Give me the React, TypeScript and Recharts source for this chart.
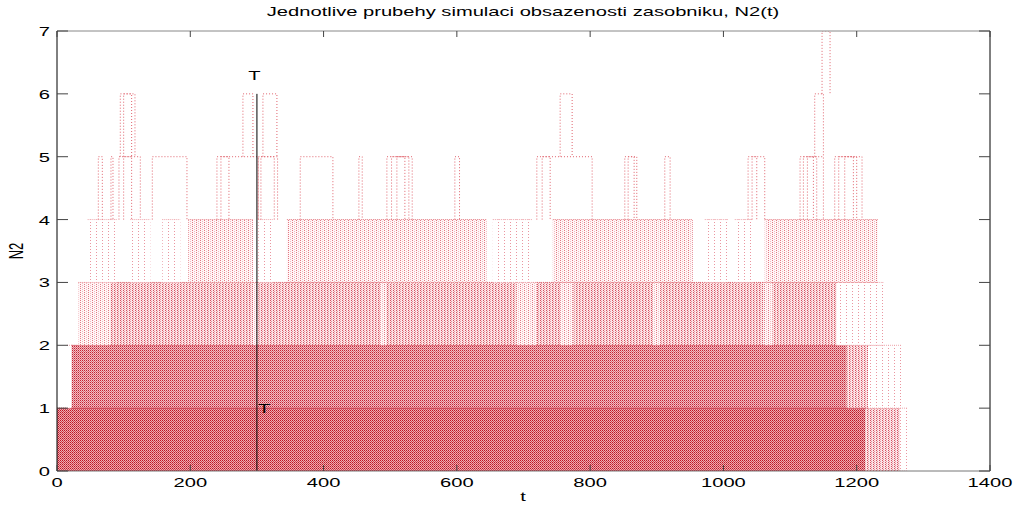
import React from 'react';
import { ComposedChart, Area, Line, XAxis, YAxis, ReferenceLine, ReferenceDot } from 'recharts';

const xTicks = [0, 200, 400, 600, 800, 1000, 1200, 1400];
const yTicks = [0, 1, 2, 3, 4, 5, 6, 7];
const markTime = 300;
const markTop = 6;

// stretches of time where the runs sit in a band: [from, to, crowding 1 (few runs) .. 5 (packed)]
const level1Spans = [[0, 1213, 5], [1213, 1265, 3], [1265, 1277, 1]];
const level2Spans = [[15, 22, 1], [22, 1185, 4], [1185, 1217, 3], [1217, 1268, 1]];
const level3Spans = [
  [32, 80, 2], [80, 294, 3], [294, 302, 2], [302, 485, 3], [485, 495, 2], [495, 690, 3],
  [690, 720, 2], [720, 755, 3], [755, 775, 2], [775, 895, 3], [895, 905, 2], [905, 1060, 3],
  [1060, 1073, 2], [1073, 1170, 3], [1170, 1240, 1],
];
const level4Spans = [
  [46, 90, 1], [110, 140, 1], [158, 185, 1], [197, 294, 2], [302, 324, 1], [345, 645, 2],
  [654, 714, 1], [744, 954, 2], [972, 1007, 1], [1017, 1044, 1], [1062, 1232, 2],
];

// single excursions above 4: [up at, down at]
const level5Runs = [
  [62, 68], [81, 84], [93, 125], [100, 112], [143, 195], [240, 302], [246, 258], [302, 331],
  [306, 326], [365, 414], [453, 458], [495, 533], [502, 528], [510, 522], [597, 604], [720, 803],
  [728, 740], [852, 870], [857, 866], [912, 920], [1037, 1062], [1043, 1050], [1115, 1150],
  [1120, 1140], [1126, 1135], [1167, 1208], [1173, 1200], [1182, 1195],
];
const level6Runs = [[95, 117], [100, 112], [279, 294], [309, 330], [755, 773], [1137, 1150]];
const level7Runs = [[1148, 1160]];

const TOP = 31;
const RIGHT = 990;
const FONT = '"Liberation Sans", Arial, sans-serif';
const STRETCH = 1.55;

const spanSeries = (spans: number[][], level: number) =>
  spans.map(([a, b, d]) => ({
    d,
    data: [
      { t: a, r: [level - 1, level] },
      { t: b, r: [level - 1, level] },
    ],
  }));

const runSeries = (runs: number[][], level: number) =>
  runs.map(([a, b]) => [
    { t: a, v: level - 1 },
    { t: a, v: level },
    { t: b, v: level },
    { t: b, v: level - 1 },
  ]);

const bands = [
  ...spanSeries(level1Spans, 1),
  ...spanSeries(level2Spans, 2),
  ...spanSeries(level3Spans, 3),
  ...spanSeries(level4Spans, 4),
];
const runs = [...runSeries(level5Runs, 5), ...runSeries(level6Runs, 6), ...runSeries(level7Runs, 7)];

const edgeColor: Record<number, string> = { 5: '#c01c2c', 4: '#c82a3a', 3: '#d85864', 2: '#e6828a', 1: '#eea6ac' };

const XTick = (props: any) => {
  const { x, y, payload } = props;
  return (
    <g>
      <line x1={x} y1={y} x2={x} y2={y - 6} stroke="#444" />
      <line x1={x} y1={TOP} x2={x} y2={TOP + 6} stroke="#444" />
      <text
        transform={`translate(${x},${y + 16}) scale(${STRETCH},1)`}
        textAnchor="middle"
        fontSize={13}
        fontFamily={FONT}
        fill="#000"
      >
        {payload.value}
      </text>
    </g>
  );
};

const YTick = (props: any) => {
  const { x, y, payload } = props;
  return (
    <g>
      <line x1={x} y1={y} x2={x + 11} y2={y} stroke="#444" />
      <line x1={RIGHT} y1={y} x2={RIGHT - 11} y2={y} stroke="#444" />
      <text
        transform={`translate(${x - 7},${y + 5}) scale(${STRETCH},1)`}
        textAnchor="end"
        fontSize={13}
        fontFamily={FONT}
        fill="#000"
      >
        {payload.value}
      </text>
    </g>
  );
};

const markLabel = (dx: number, anchor: 'start' | 'middle') => (p: any) => (
  <text
    transform={`translate(${p.cx + dx},${p.cy + 5}) scale(${STRETCH},1)`}
    textAnchor={anchor}
    fontSize={13}
    fontFamily={FONT}
    fill="#000"
  >
    T
  </text>
);

export default function App() {
  return (
    <div style={{ position: 'absolute', left: 0, top: 0, width: 1018, height: 508, background: '#fff' }}>
      <ComposedChart width={1018} height={508} margin={{ top: 31, right: 28, bottom: 0, left: 0 }}>
        <defs>
          <pattern id="p5" width="2" height="2" patternUnits="userSpaceOnUse">
            <rect width="2" height="2" fill="#eeacb2" />
            <rect x="0" y="0" width="1" height="1" fill="#bc1424" />
            <rect x="1" y="1" width="1" height="1" fill="#d04452" />
          </pattern>
          <pattern id="p4" width="2" height="2" patternUnits="userSpaceOnUse">
            <rect width="2" height="2" fill="#f2bec4" />
            <rect x="0" y="0" width="1" height="1" fill="#c42232" />
            <rect x="1" y="1" width="1" height="1" fill="#dc6e7a" />
          </pattern>
          <pattern id="p3" width="3" height="2" patternUnits="userSpaceOnUse">
            <rect width="3" height="2" fill="#fbe4e6" />
            <rect x="0" y="0" width="1" height="1" fill="#d65260" />
            <rect x="1" y="1" width="1" height="1" fill="#e8949c" />
          </pattern>
          <pattern id="p2" width="4" height="2" patternUnits="userSpaceOnUse">
            <rect width="4" height="2" fill="#fff6f7" />
            <rect x="0" y="0" width="1" height="1" fill="#e27a84" />
            <rect x="2" y="1" width="1" height="1" fill="#f2bcc1" />
          </pattern>
          <pattern id="p1" width="6" height="3" patternUnits="userSpaceOnUse">
            <rect width="6" height="3" fill="#ffffff" />
            <rect x="0" y="0" width="1" height="1" fill="#ea96a0" />
          </pattern>
        </defs>
        <XAxis
          type="number"
          dataKey="t"
          domain={[0, 1400]}
          ticks={xTicks}
          allowDataOverflow
          height={37}
          tickSize={0}
          tickMargin={0}
          tickLine={false}
          tick={<XTick />}
          axisLine={{ stroke: '#777' }}
        />
        <YAxis
          type="number"
          domain={[0, 7]}
          ticks={yTicks}
          allowDataOverflow
          width={57}
          tickSize={0}
          tickMargin={0}
          tickLine={false}
          tick={<YTick />}
          axisLine={{ stroke: '#000' }}
        />
        {bands.map((b, i) => (
          <Area
            key={`b${i}`}
            data={b.data}
            dataKey="r"
            type="linear"
            stroke={edgeColor[b.d]}
            strokeDasharray="1 1"
            fill={`url(#p${b.d})`}
            fillOpacity={1}
            dot={false}
            activeDot={false}
            isAnimationActive={false}
          />
        ))}
        {runs.map((r, i) => (
          <Line
            key={`r${i}`}
            data={r}
            dataKey="v"
            type="linear"
            stroke="#e0646e"
            strokeDasharray="1 2"
            dot={false}
            activeDot={false}
            isAnimationActive={false}
          />
        ))}
        <ReferenceLine y={7} stroke="#888" />
        <ReferenceLine x={1400} stroke="#000" />
        <ReferenceLine
          segment={[
            { x: markTime, y: 0 },
            { x: markTime, y: markTop },
          ]}
          stroke="#000"
        />
        <ReferenceDot x={287} y={6.3} r={0} shape={markLabel(0, 'start')} />
        <ReferenceDot x={markTime} y={1} r={0} shape={markLabel(1, 'start')} />
      </ComposedChart>
      <svg width={1018} height={508} style={{ position: 'absolute', left: 0, top: 0, pointerEvents: 'none' }}>
        <text
          transform={`translate(523,16) scale(${STRETCH},1)`}
          textAnchor="middle"
          fontSize={13}
          fontFamily={FONT}
          fill="#000"
        >
          Jednotlive prubehy simulaci obsazenosti zasobniku, N2(t)
        </text>
        <text
          transform={`translate(523,501) scale(${STRETCH},1)`}
          textAnchor="middle"
          fontSize={13}
          fontFamily={FONT}
          fill="#000"
        >
          t
        </text>
        <text
          transform={`translate(23,251) scale(${STRETCH},1) rotate(-90)`}
          textAnchor="middle"
          fontSize={13}
          fontFamily={FONT}
          fill="#000"
        >
          N2
        </text>
      </svg>
    </div>
  );
}
